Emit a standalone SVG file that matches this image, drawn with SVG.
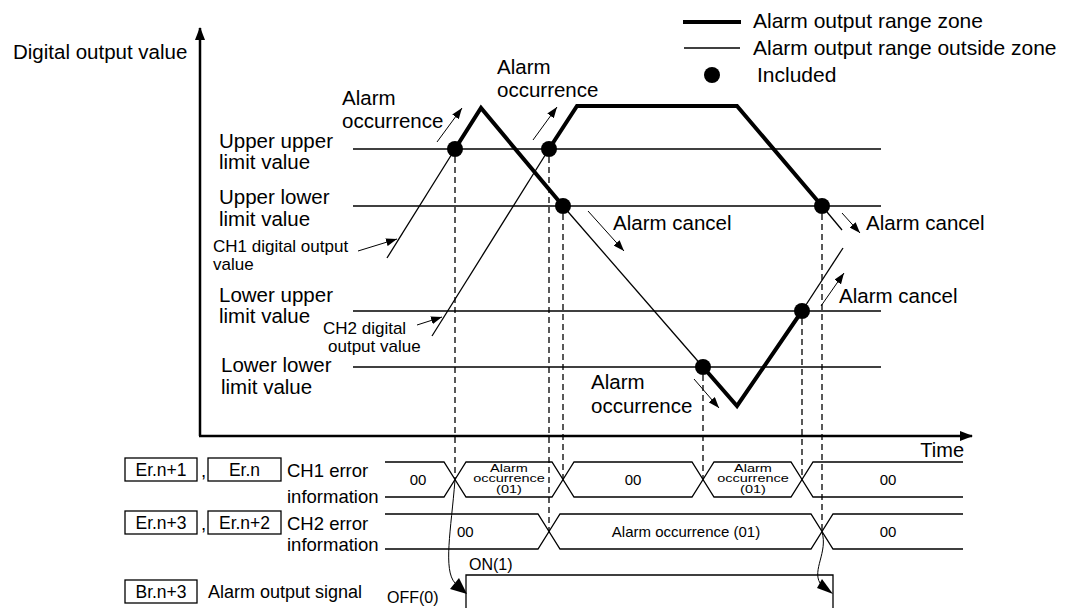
<svg xmlns="http://www.w3.org/2000/svg" width="1074" height="608" viewBox="0 0 1074 608">
<style>
text{font-family:"Liberation Sans",Arial,sans-serif;fill:#000}
.lb{font-size:20.5px}
.sm{font-size:17px}
.rl{font-size:18.5px}
.bx{font-size:17.5px;text-anchor:middle}
.v{font-size:15px;text-anchor:middle}
.sq{font-size:14.5px;text-anchor:middle}
.thin{fill:none;stroke:#000;stroke-width:1.3}
.thick{fill:none;stroke:#000;stroke-width:4;stroke-linejoin:miter}
.ax{fill:none;stroke:#000;stroke-width:2.5}
.dash{fill:none;stroke:#000;stroke-width:1.3;stroke-dasharray:6 4}
.ann{fill:none;stroke:#000;stroke-width:1}
.box{fill:#fff;stroke:#000;stroke-width:1.3}
.row{fill:none;stroke:#000;stroke-width:1.3}
</style>
<defs>
<marker id="ah" markerUnits="userSpaceOnUse" markerWidth="11" markerHeight="8" refX="11" refY="4" orient="auto"><path d="M0,0 L11,4 L0,8 z" fill="#000"/></marker>
<marker id="axh" markerUnits="userSpaceOnUse" markerWidth="13" markerHeight="10" refX="12" refY="5" orient="auto"><path d="M0,0 L13,5 L0,10 z" fill="#000"/></marker>
</defs>

<g id="legend">
<line x1="683" y1="22" x2="741" y2="22" stroke="#000" stroke-width="4"/>
<line x1="684" y1="48" x2="740" y2="48" stroke="#000" stroke-width="1.5"/>
<circle cx="712" cy="75" r="8"/>
<text x="753" y="28" style="font-size:21px">Alarm output range zone</text>
<text x="753" y="55" style="font-size:21px">Alarm output range outside zone</text>
<text x="757" y="82" style="font-size:21px">Included</text>
</g>

<g id="axes">
<line x1="200" y1="436" x2="200" y2="28" class="ax" marker-end="url(#axh)"/>
<line x1="199" y1="436" x2="972" y2="436" class="ax" marker-end="url(#axh)"/>
<text x="13" y="59" class="lb">Digital output value</text>
<text x="964" y="457" class="lb" style="text-anchor:end;font-size:20px">Time</text>
</g>

<g id="limits">
<line x1="353" y1="149" x2="881" y2="149" class="thin"/>
<line x1="353" y1="206" x2="881" y2="206" class="thin"/>
<line x1="353" y1="311" x2="881" y2="311" class="thin"/>
<line x1="353" y1="367" x2="881" y2="367" class="thin"/>
<text class="lb" x="219" y="148">Upper upper</text>
<text class="lb" x="219" y="169">limit value</text>
<text class="lb" x="219" y="204">Upper lower</text>
<text class="lb" x="219" y="226">limit value</text>
<text class="lb" x="219" y="302">Lower upper</text>
<text class="lb" x="219" y="323">limit value</text>
<text class="lb" x="221" y="372">Lower lower</text>
<text class="lb" x="221" y="394">limit value</text>
</g>

<g id="dashes">
<line x1="455" y1="157" x2="455" y2="479" class="dash"/>
<line x1="549" y1="157" x2="549" y2="531" class="dash"/>
<line x1="563" y1="214" x2="563" y2="479" class="dash"/>
<line x1="703" y1="375" x2="703" y2="479" class="dash"/>
<line x1="802" y1="319" x2="802" y2="479" class="dash"/>
<line x1="822" y1="214" x2="822" y2="531" class="dash"/>
</g>

<g id="ch1-signal">
<polyline points="387,258 455,149" class="thin"/>
<polyline points="455,149 481,108 563,206" class="thick"/>
<polyline points="563,206 703,367" class="thin"/>
<polyline points="703,367 737,406 802,311" class="thick"/>
<polyline points="802,311 843,248" class="thin"/>
</g>
<g id="ch2-signal">
<polyline points="432,336 549,149" class="thin"/>
<polyline points="549,149 577,106 737,106 822,206" class="thick"/>
<polyline points="822,206 842,230" class="thin"/>
</g>
<g id="points">
<circle cx="455" cy="149" r="8"/>
<circle cx="549" cy="149" r="8"/>
<circle cx="563" cy="206" r="8"/>
<circle cx="822" cy="206" r="8"/>
<circle cx="703" cy="367" r="8"/>
<circle cx="802" cy="311" r="8"/>
</g>

<g id="annotations">
<line x1="437" y1="142" x2="462" y2="108" class="ann" marker-end="url(#ah)"/>
<text class="lb" x="342" y="105">Alarm</text>
<text class="lb" x="342" y="128">occurrence</text>
<line x1="533" y1="140" x2="557" y2="107" class="ann" marker-end="url(#ah)"/>
<text class="lb" x="497" y="74">Alarm</text>
<text class="lb" x="497" y="97">occurrence</text>
<line x1="588" y1="211" x2="624" y2="251" class="ann" marker-end="url(#ah)"/>
<text class="lb" x="613" y="230">Alarm cancel</text>
<line x1="842" y1="213" x2="860" y2="233" class="ann" marker-end="url(#ah)"/>
<text class="lb" x="866" y="230">Alarm cancel</text>
<line x1="821" y1="306" x2="844" y2="273" class="ann" marker-end="url(#ah)"/>
<text class="lb" x="839" y="303">Alarm cancel</text>
<line x1="694" y1="379" x2="719" y2="408" class="ann" marker-end="url(#ah)"/>
<text class="lb" x="591" y="389">Alarm</text>
<text class="lb" x="591" y="413">occurrence</text>
<line x1="358" y1="251" x2="397" y2="239" class="ann" marker-end="url(#ah)"/>
<text class="sm" x="213" y="252">CH1 digital output</text>
<text class="sm" x="213" y="270">value</text>
<line x1="417" y1="325" x2="442" y2="317" class="ann" marker-end="url(#ah)"/>
<text class="sm" x="323" y="334">CH2 digital</text>
<text class="sm" x="328" y="352">output value</text>
</g>

<g id="row-labels">
<rect x="125" y="458" width="72" height="23" class="box"/>
<text class="bx" x="161" y="476">Er.n+1</text>
<text class="rl" x="201" y="477">,</text>
<rect x="208" y="458" width="73" height="23" class="box"/>
<text class="bx" x="244.5" y="476">Er.n</text>
<text class="rl" x="287" y="477">CH1 error</text>
<text class="rl" x="287" y="503">information</text>
<rect x="125" y="511" width="72" height="23" class="box"/>
<text class="bx" x="161" y="529">Er.n+3</text>
<text class="rl" x="201" y="530">,</text>
<rect x="208" y="511" width="73" height="23" class="box"/>
<text class="bx" x="244.5" y="529">Er.n+2</text>
<text class="rl" x="287" y="530">CH2 error</text>
<text class="rl" x="287" y="551">information</text>
<rect x="125" y="580" width="72" height="23" class="box"/>
<text class="bx" x="161" y="598">Br.n+3</text>
<text class="rl" x="208" y="598" style="font-size:18px">Alarm output signal</text>
</g>

<g id="ch1-error-row">
<path class="row" d="M385,462 L444,462 L455,479.5 L444,497 L385,497"/>
<path class="row" d="M455,479.5 L466,462 L552,462 L563,479.5 L552,497 L466,497 Z"/>
<path class="row" d="M563,479.5 L574,462 L692,462 L703,479.5 L692,497 L574,497 Z"/>
<path class="row" d="M703,479.5 L714,462 L791,462 L802,479.5 L791,497 L714,497 Z"/>
<path class="row" d="M963,462 L813,462 L802,479.5 L813,497 L963,497"/>
<text class="v" x="418" y="485">00</text>
<text class="sq" transform="matrix(1,0,0,0.76,509,472)">Alarm</text>
<text class="sq" transform="matrix(1,0,0,0.76,509,482)">occurrence</text>
<text class="sq" transform="matrix(1,0,0,0.76,509,493)">(01)</text>
<text class="v" x="633" y="485">00</text>
<text class="sq" transform="matrix(1,0,0,0.76,753,472)">Alarm</text>
<text class="sq" transform="matrix(1,0,0,0.76,753,482)">occurrence</text>
<text class="sq" transform="matrix(1,0,0,0.76,753,493)">(01)</text>
<text class="v" x="888" y="485">00</text>
</g>

<g id="ch2-error-row">
<path class="row" d="M385,514 L538,514 L549,531.5 L538,549 L385,549"/>
<path class="row" d="M549,531.5 L560,514 L811,514 L822,531.5 L811,549 L560,549 Z"/>
<path class="row" d="M963,514 L833,514 L822,531.5 L833,549 L963,549"/>
<text class="v" x="457" y="537" style="text-anchor:start">00</text>
<text class="v" x="686" y="537">Alarm occurrence (01)</text>
<text class="v" x="888" y="537">00</text>
</g>

<g id="alarm-signal-row">
<path class="row" d="M466,608 L466,575 L833,575 L833,608"/>
<text x="469" y="570" style="font-size:16px">ON(1)</text>
<text x="387" y="603" style="font-size:16px">OFF(0)</text>
</g>

<g id="connectors">
<path class="ann" d="M455,480 C451,530 443,570 455,583"/>
<polygon points="467,594 450,589 459,578"/>
<path class="ann" d="M822,532 C828,552 812,570 820,583"/>
<polygon points="833,594 817,588 822,579"/>
</g>
</svg>
